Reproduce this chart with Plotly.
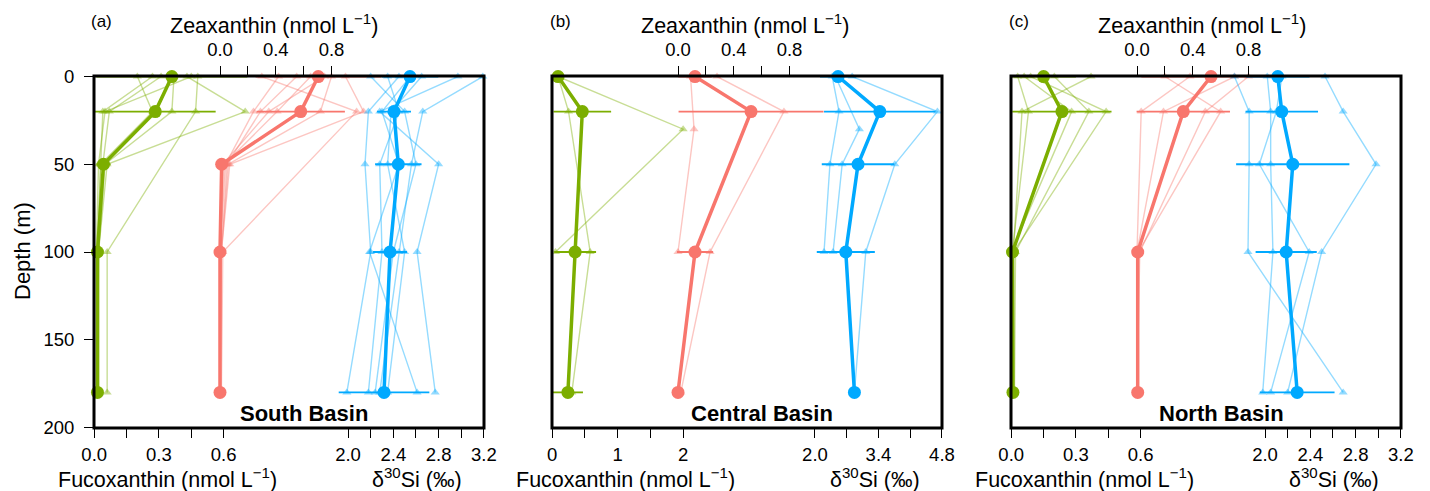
import plotly.graph_objects as go

# ---------------- data ----------------
DEPTHS = [0, 20, 30, 50, 100, 180]

PANEL_LABELS = ["(a)", "(b)", "(c)"]
BASIN_NAMES = ["South Basin", "Central Basin", "North Basin"]

# Panel (a) South Basin
A_FUCO_MEAN = [0.36, 0.283, None, 0.043, 0.015, 0.015]
A_FUCO_ERR = [0.35, 0.28, None, 0.033, 0.005, 0.003]
A_FUCO_STN = [
    [0.27, 0.04, None, 0.03, 0.015, 0.015],
    [0.31, 0.07, None, 0.04, 0.02, 0.015],
    [0.37, 0.36, None, 0.05, 0.02, 0.02],
    [0.43, 0.70, None, 0.06, 0.02, 0.02],
    [0.48, 0.47, None, None, 0.06, 0.06],
    [0.20, 0.27, None, 0.03, 0.015, 0.015],
    [0.45, 0.05, None, 0.02, 0.01, 0.01],
]
A_ZEAX_MEAN = [0.705, 0.579, None, 0.012, 0.0, 0.0]
A_ZEAX_ERR = [0.45, 0.317, None, 0.0, 0.0, 0.0]
A_ZEAX_STN = [
    [0.42, 0.24, None, 0.04, 0.0, 0.0],
    [0.55, 0.29, None, 0.05, 0.01, 0.0],
    [0.65, 0.41, None, 0.03, 0.0, 0.0],
    [0.80, 0.72, None, 0.06, 0.01, 0.0],
    [0.30, 0.98, None, None, 0.02, 0.01],
    [0.90, 1.03, None, 0.07, 0.01, 0.0],
    [0.75, 0.35, None, 0.02, 0.0, 0.0],
]
A_SI_MEAN = [2.547, 2.406, None, 2.444, 2.371, 2.318]
A_SI_ERR = [0.25, 0.15, None, 0.205, 0.15, 0.4]
A_SI_STN = [
    [2.45, 2.18, None, 2.15, 2.20, 1.99],
    [3.19, 2.66, None, 2.56, 2.45, 2.28],
    [2.97, 2.28, None, 2.80, 2.61, 2.77],
    [2.35, 2.45, None, 2.28, 2.30, 2.18],
    [2.55, 2.30, None, 2.45, 2.19, 2.61],
    [2.20, 2.50, None, 2.60, 2.40, 2.24],
    [2.65, 2.38, None, 2.35, 2.50, 2.35],
]

# Panel (b) Central Basin
B_FUCO_MEAN = [0.09, 0.46, None, None, 0.35, 0.24]
B_FUCO_ERR = [0.0, 0.44, None, None, 0.32, 0.23]
B_FUCO_STN = [
    [0.09, None, 2.0, None, 0.05, None],
    [0.09, 0.25, None, None, 0.58, 0.30],
]
B_ZEAX_MEAN = [0.122, 0.524, None, None, 0.122, 0.0]
B_ZEAX_ERR = [0.12, 0.52, None, None, 0.13, 0.0]
B_ZEAX_STN = [
    [0.09, None, 0.115, None, 0.0, None],
    [0.28, 0.76, None, None, 0.23, 0.02],
]
B_SI_MEAN = [2.51, 3.43, None, 2.95, 2.68, 2.87]
B_SI_ERR = [0.4, 1.23, None, 0.8, 0.64, 0.0]
B_SI_STN = [
    [2.38, 2.53, None, 2.33, 2.20, None],
    [2.82, 4.70, None, 3.76, 3.12, 2.87],
    [2.45, None, 2.98, 2.60, 2.40, None],
]

# Panel (c) North Basin
C_FUCO_MEAN = [0.15, 0.235, None, None, 0.006, 0.008]
C_FUCO_ERR = [0.15, 0.23, None, None, 0.0, 0.0]
C_FUCO_STN = [
    [0.09, 0.44, None, None, 0.01, 0.01],
    [0.37, 0.05, None, None, 0.01, 0.01],
    [0.03, 0.08, None, None, 0.005, 0.01],
    [0.20, 0.36, None, None, 0.02, 0.015],
    [0.06, 0.28, None, None, 0.0, 0.005],
]
C_ZEAX_MEAN = [0.531, 0.332, None, None, 0.005, 0.005]
C_ZEAX_ERR = [0.5, 0.335, None, None, 0.0, 0.0]
C_ZEAX_STN = [
    [0.38, 0.03, None, None, 0.0, 0.0],
    [0.20, 0.60, None, None, 0.01, 0.0],
    [0.70, 0.19, None, None, 0.0, 0.0],
    [0.80, 0.49, None, None, 0.02, 0.0],
]
C_SI_MEAN = [2.113, 2.148, None, 2.245, 2.187, 2.284]
C_SI_ERR = [0.28, 0.32, None, 0.5, 0.27, 0.33]
C_SI_STN = [
    [1.73, 1.86, None, 1.86, 1.85, 2.69],
    [2.02, 2.05, None, 2.05, 2.07, 1.98],
    [2.53, 2.69, None, 2.98, 2.50, 2.20],
    [2.15, 2.10, None, 1.95, 2.39, 2.05],
]

# tick labels (major = labelled, minor = unlabelled)
FUCO_MAJOR_AC = [0, 0.3, 0.6]
FUCO_TEXT_AC = ["0.0", "0.3", "0.6"]
FUCO_MINOR_AC = [0.15, 0.45]
FUCO_MAJOR_B = [0, 1, 2]
FUCO_TEXT_B = ["0", "1", "2"]
FUCO_MINOR_B = [0.5, 1.5]
ZEAX_MAJOR = [0, 0.4, 0.8]
ZEAX_TEXT = ["0.0", "0.4", "0.8"]
ZEAX_MINOR = [0.2, 0.6]
SI_MAJOR_AC = [2.0, 2.4, 2.8, 3.2]
SI_TEXT_AC = ["2.0", "2.4", "2.8", "3.2"]
SI_MINOR_AC = [2.2, 2.6, 3.0]
SI_MAJOR_B = [2.0, 3.4, 4.8]
SI_TEXT_B = ["2.0", "3.4", "4.8"]
SI_MINOR_B = [2.7, 4.1]
DEPTH_TICKS = [0, 50, 100, 150, 200]

# ---------------- styling / geometry ----------------
W, H = 1430, 491
FONT = "Liberation Sans, Arial, sans-serif"
TICK_SIZE = 18.5
TITLE_SIZE = 21.5
GREEN, RED, BLUE = "#7CAE00", "#F8766D", "#00A9FF"
GREEN_T = "rgba(124,174,0,0.42)"
RED_T = "rgba(248,118,109,0.42)"
BLUE_T = "rgba(0,169,255,0.42)"

PANEL_LEFT = [94, 552, 1011]
PANEL_W = 390
TOP_PX, BOT_PX = 76, 428

panels = [
    dict(fuco=(A_FUCO_MEAN, A_FUCO_ERR, A_FUCO_STN), zeax=(A_ZEAX_MEAN, A_ZEAX_ERR, A_ZEAX_STN),
         si=(A_SI_MEAN, A_SI_ERR, A_SI_STN), fr=[-0.001, 0.6 * PANEL_W / 129.5],
         ft=(FUCO_MAJOR_AC, FUCO_TEXT_AC, FUCO_MINOR_AC), sr=[3.2 - PANEL_W / 113.3, 3.2005],
         st=(SI_MAJOR_AC, SI_TEXT_AC, SI_MINOR_AC), zt_x=274),
    dict(fuco=(B_FUCO_MEAN, B_FUCO_ERR, B_FUCO_STN), zeax=(B_ZEAX_MEAN, B_ZEAX_ERR, B_ZEAX_STN),
         si=(B_SI_MEAN, B_SI_ERR, B_SI_STN), fr=[-0.003, 2 * PANEL_W / 131.0],
         ft=(FUCO_MAJOR_B, FUCO_TEXT_B, FUCO_MINOR_B), sr=[4.8 - PANEL_W / 45.36, 4.801],
         st=(SI_MAJOR_B, SI_TEXT_B, SI_MINOR_B), zt_x=745),
    dict(fuco=(C_FUCO_MEAN, C_FUCO_ERR, C_FUCO_STN), zeax=(C_ZEAX_MEAN, C_ZEAX_ERR, C_ZEAX_STN),
         si=(C_SI_MEAN, C_SI_ERR, C_SI_STN), fr=[-0.001, 0.6 * PANEL_W / 129.5],
         ft=(FUCO_MAJOR_AC, FUCO_TEXT_AC, FUCO_MINOR_AC), sr=[3.2 - PANEL_W / 113.3, 3.2005],
         st=(SI_MAJOR_AC, SI_TEXT_AC, SI_MINOR_AC), zt_x=1202),
]
ZEAX_RANGE = [-126 / 139.4, (PANEL_W - 126) / 139.4]


def pairs(vals, errs=None):
    xs, ys, es = [], [], []
    for i, v in enumerate(vals):
        if v is None:
            continue
        xs.append(v)
        ys.append(DEPTHS[i])
        if errs is not None:
            es.append(errs[i] if errs[i] is not None else 0)
    return xs, ys, es


fig = go.Figure()
layout = dict(
    template="none",
    width=W, height=H, margin=dict(l=0, r=0, t=0, b=0, pad=0, autoexpand=False),
    paper_bgcolor="white", plot_bgcolor="white", showlegend=False,
    font=dict(family=FONT, size=16, color="black"),
)
annotations = []
shapes = []

ydom = [1 - BOT_PX / H, 1 - TOP_PX / H]
tickbase = dict(showgrid=False, zeroline=False, showline=False, ticks="outside",
                ticklen=9, tickwidth=1.3, tickcolor="black", automargin=False,
                tickfont=dict(family=FONT, size=TICK_SIZE, color="black"),
                ticklabelstandoff=1, fixedrange=True, tickmode="array")


def minor(vals):
    return dict(tickmode="array", tickvals=vals, ticks="outside", ticklen=9,
                tickwidth=1.3, tickcolor="black", showgrid=False)


for p, P in enumerate(panels):
    left = PANEL_LEFT[p]
    xdom = [left / W, (left + PANEL_W) / W]
    yname = "y" if p == 0 else f"y{p + 1}"
    ykey = "yaxis" if p == 0 else f"yaxis{p + 1}"
    nf, nz, ns = 3 * p + 1, 3 * p + 2, 3 * p + 3
    xf = "x" if nf == 1 else f"x{nf}"
    xz, xs_ = f"x{nz}", f"x{ns}"
    kf = "xaxis" if nf == 1 else f"xaxis{nf}"

    layout[ykey] = dict(domain=ydom, range=[200.3, -0.3], anchor=xf, automargin=False,
                        showgrid=False, zeroline=False, showline=False,
                        ticks="outside" if p == 0 else "", ticklen=9, tickwidth=1.3,
                        tickcolor="black", tickmode="array", tickvals=DEPTH_TICKS,
                        showticklabels=(p == 0), ticklabelstandoff=6,
                        tickfont=dict(family=FONT, size=TICK_SIZE, color="black"), fixedrange=True)
    layout[kf] = dict(tickbase, domain=xdom, range=P["fr"], anchor=yname, side="bottom",
                      tickvals=P["ft"][0], ticktext=P["ft"][1], minor=minor(P["ft"][2]))
    layout[f"xaxis{nz}"] = dict(tickbase, range=ZEAX_RANGE, anchor=yname, side="top",
                                overlaying=xf, tickvals=ZEAX_MAJOR, ticktext=ZEAX_TEXT,
                                minor=minor(ZEAX_MINOR), ticklabelstandoff=3)
    layout[f"xaxis{ns}"] = dict(tickbase, range=P["sr"], anchor=yname, side="bottom",
                                overlaying=xf, tickvals=P["st"][0], ticktext=P["st"][1],
                                minor=minor(P["st"][2]))

    groups = [("fuco", xf, GREEN, GREEN_T), ("zeax", xz, RED, RED_T), ("si", xs_, BLUE, BLUE_T)]
    # thin station profiles
    for key, xa, col, colt in groups:
        for stn in P[key][2]:
            xv, yv, _ = pairs(stn)
            fig.add_trace(go.Scatter(x=xv, y=yv, xaxis=xa, yaxis=yname, mode="lines+markers",
                                     line=dict(color=colt, width=1.4),
                                     marker=dict(symbol="triangle-up", size=8, color=colt),
                                     cliponaxis=False, hoverinfo="skip"))
    # mean profiles
    for key, xa, col, colt in groups:
        xv, yv, ev = pairs(P[key][0], P[key][1])
        fig.add_trace(go.Scatter(x=xv, y=yv, xaxis=xa, yaxis=yname, mode="lines+markers",
                                 line=dict(color=col, width=3.5),
                                 marker=dict(symbol="circle", size=13, color=col),
                                 error_x=dict(type="data", array=ev, color=col, thickness=1.8, width=0),
                                 cliponaxis=False))

    # frame
    shapes.append(dict(type="rect", xref=f"{xf} domain", yref=f"{yname} domain",
                       x0=0, x1=1, y0=0, y1=1, line=dict(color="black", width=3),
                       fillcolor="rgba(0,0,0,0)", layer="above"))

    # annotations
    def px(x, y, text, size=16, bold=False, **kw):
        t = f"<b>{text}</b>" if bold else text
        annotations.append(dict(x=x / W, y=1 - y / H, xref="paper", yref="paper", text=t,
                                showarrow=False, font=dict(family=FONT, size=size, color="black"),
                                xanchor=kw.get("xanchor", "center"), yanchor="middle",
                                textangle=kw.get("angle", 0)))

    px(left + 8, 21, PANEL_LABELS[p], size=17)
    px(P["zt_x"], 24, "Zeaxanthin (nmol L<sup>−1</sup>)", size=TITLE_SIZE)
    px(left + 73, 478, "Fucoxanthin (nmol L<sup>−1</sup>)", size=TITLE_SIZE)
    px(left + 323, 478, "δ<sup>30</sup>Si (‰)", size=TITLE_SIZE)
    px(left + 210, 413, BASIN_NAMES[p], size=22, bold=True)

annotations.append(dict(x=22 / W, y=1 - 251 / H, xref="paper", yref="paper",
                        text="Depth (m)", showarrow=False, textangle=-90,
                        font=dict(family=FONT, size=22, color="black"),
                        xanchor="center", yanchor="middle"))

layout["annotations"] = annotations
layout["shapes"] = shapes
fig.update_layout(**layout)
fig.write_html("out.html", config={"displayModeBar": False},
               post_script="document.body.style.margin='0';document.body.style.padding='0';")
